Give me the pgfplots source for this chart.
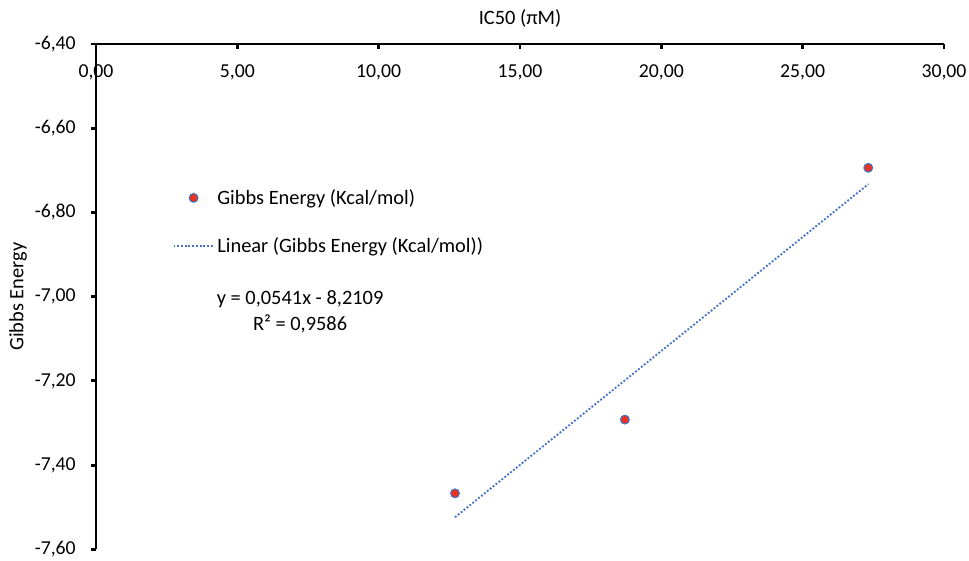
\documentclass[border=0pt]{standalone}
\usepackage{fontspec}
\setmainfont{Carlito}
\usepackage{pgfplots}
\pgfplotsset{compat=1.18}
\definecolor{ptred}{RGB}{232,51,35}
\definecolor{xlblue}{RGB}{68,114,196}
\pgfplotsset{
  legmark/.style={legend image code/.code={\draw[mark repeat=2,mark phase=2,##1] plot coordinates {(0cm,0cm) (0.53cm,0cm) (1.06cm,0cm)};}},
  legline/.style={legend image code/.code={\draw[##1] (0cm,0cm) -- (1.06cm,0cm);}},
}
\begin{document}
\begin{tikzpicture}[font=\fontsize{15.3}{18.4}\selectfont]
\begin{axis}[
  name=ax,
  scale only axis,
  width=636pt, height=379pt,
  xmin=0, xmax=30, ymin=-7.6, ymax=-6.4,
  axis x line*=top, axis y line*=left,
  axis line style={line width=2.2pt, black},
  xtick={0,5,10,15,20,25,30},
  xticklabels={{0,00},{5,00},{10,00},{15,00},{20,00},{25,00},{30,00}},
  ytick={-7.6,-7.4,-7.2,-7.0,-6.8,-6.6,-6.4},
  yticklabels={{-7,60},{-7,40},{-7,20},{-7,00},{-6,80},{-6,60},{-6,40}},
  tick align=inside,
  major tick length=4pt,
  tick style={line width=2.2pt, black},
  ytick style={xshift=-4pt},
  tick label style={font=\fontsize{14.8}{17.8}\selectfont},
  xticklabel style={anchor=north, inner sep=0pt, yshift=-15pt},
  yticklabel style={anchor=east, inner sep=0pt, xshift=-15pt},
  xlabel={IC50 (πM)},
  xlabel style={at={(axis description cs:0.5,1.05)}, anchor=center},
  ylabel={Gibbs Energy},
  ylabel style={at={(axis description cs:-0.092,0.5)}, anchor=center},
  legend style={draw=none, fill=none, at={(axis description cs:0.09,0.718)}, anchor=north west,
    row sep=19.5pt, inner sep=0pt, nodes={inner sep=2pt}},
  legend cell align=left,
  /pgf/number format/assume math mode=true,
]
\addplot[only marks, mark=*, mark size=3.3pt,
  mark options={fill=ptred, draw=xlblue, line width=0.8pt}, legmark]
  coordinates {(12.70,-7.467) (18.71,-7.292) (27.32,-6.694)};
\addlegendentry{Gibbs Energy (Kcal/mol)}
\addplot[xlblue, line width=1.4pt, dash pattern=on 1.4pt off 1.4pt, no marks, legline]
  coordinates {(12.70,-7.5238) (27.32,-6.7329)};
\addlegendentry{Linear (Gibbs Energy (Kcal/mol))}
\node[align=center, inner sep=0pt, font=\fontsize{15.3}{19}\selectfont] at (axis cs:7.22,-7.036) {y = 0,0541x - 8,2109\\R² = 0,9586};
\end{axis}
\path[use as bounding box] ([xshift=-72pt,yshift=-8pt]ax.south west) rectangle ([xshift=18.75pt,yshift=33pt]ax.north east);
\end{tikzpicture}
\end{document}
